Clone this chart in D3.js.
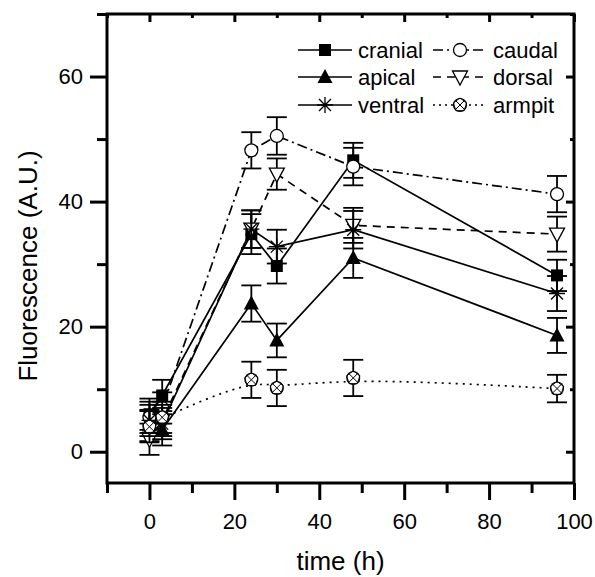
<!DOCTYPE html>
<html>
<head>
<meta charset="utf-8">
<script src="https://cdn.jsdelivr.net/npm/d3@7"></script>
<style>
  body { margin: 0; background: #fff; }
  svg { display: block; font-family: 'Liberation Sans', Arial, sans-serif; }
</style>
</head>
<body>
<svg id="canvas"></svg>
<script>
// time points (h)
let times = [0, 3, 24, 30, 48, 96]

// series values and errors
let cranial = [6, 9, 34.8, 29.7, 46.6, 28.2]
let cranialErr = [2.5, 2.5, 3.2, 2.8, 2.8, 2.5]
let caudal = [5.5, 7, 48.2, 50.5, 45.6, 41.2]
let caudalErr = [2.5, 2.5, 2.9, 3.0, 3.0, 2.9]
let apical = [4.2, 3.5, 23.7, 17.8, 31, 18.6]
let apicalErr = [2.5, 2.5, 2.9, 2.7, 3.2, 2.8]
let dorsal = [2, 5, 35.6, 44.4, 36.2, 34.8]
let dorsalErr = [2.5, 2.5, 3, 2.5, 2.8, 2.8]
let ventral = [5, 4.5, 35.6, 32.8, 35.5, 25.3]
let ventralErr = [2.5, 2.5, 3, 2.7, 3, 2.8]
let armpit = [4, 5.5, 11.5, 10.2, 11.8, 10.1]
let armpitErr = [2.5, 2.5, 2.9, 2.9, 2.9, 2.2]

let seriesNames = ['cranial', 'caudal', 'apical', 'dorsal', 'ventral', 'armpit']

let xMajor = [0, 20, 40, 60, 80, 100]
let xMinor = [-10, 10, 30, 50, 70, 90]
let yMajor = [0, 20, 40, 60]
let yMinor = [10, 30, 50, 70]

let width = 595
let height = 577
let plotLeft = 107
let plotRight = 574
let plotTop = 14
let plotBottom = 483

let svg = d3.select('#canvas')
svg.attr('width', width).attr('height', height)

let xScale = d3.scaleLinear().domain([-10, 100]).range([plotLeft, plotRight])
let yScale = d3.scaleLinear().domain([-5, 70]).range([plotBottom, plotTop])

let styles = {
    cranial: { values: cranial, err: cranialErr, marker: 'square', dash: null, curve: d3.curveLinear },
    caudal: { values: caudal, err: caudalErr, marker: 'circle', dash: '10,4,2,4', curve: d3.curveLinear },
    apical: { values: apical, err: apicalErr, marker: 'triangle', dash: null, curve: d3.curveLinear },
    dorsal: { values: dorsal, err: dorsalErr, marker: 'triangleDown', dash: '8,6', curve: d3.curveLinear },
    ventral: { values: ventral, err: ventralErr, marker: 'star', dash: null, curve: d3.curveLinear },
    armpit: { values: armpit, err: armpitErr, marker: 'crossed', dash: '2,5', curve: d3.curveBasis }
}

let drawMarker = (g, type) => {
    if (type === 'square') {
        g.append('rect').attr('x', -6).attr('y', -6).attr('width', 12).attr('height', 12).attr('fill', '#000')
    } else if (type === 'circle') {
        g.append('circle').attr('r', 6.5).attr('fill', '#fff').attr('stroke', '#000').attr('stroke-width', 1.3)
    } else if (type === 'triangle') {
        g.append('path').attr('d', 'M0,-8L7.5,6L-7.5,6Z').attr('fill', '#000')
    } else if (type === 'triangleDown') {
        g.append('path').attr('d', 'M0,8L7.5,-6L-7.5,-6Z').attr('fill', '#fff').attr('stroke', '#000').attr('stroke-width', 1.3)
    } else if (type === 'star') {
        g.append('path').attr('d', 'M0,-8V8M-8,0H8M-6,-6L6,6M-6,6L6,-6')
            .attr('fill', 'none').attr('stroke', '#000').attr('stroke-width', 1.3)
    } else if (type === 'crossed') {
        g.append('circle').attr('r', 6.5).attr('fill', '#fff').attr('stroke', '#000').attr('stroke-width', 1.1)
        g.append('path').attr('d', 'M0,-7L6.7,-2.2L4.1,5.7L-4.1,5.7L-6.7,-2.2Z')
            .attr('fill', 'none').attr('stroke', '#000').attr('stroke-width', 1)
        g.append('path').attr('d', 'M-5,-5L5,5M-5,5L5,-5')
            .attr('fill', 'none').attr('stroke', '#000').attr('stroke-width', 1)
    }
}

let drawAxes = () => {
    let axes = [
        [d3.axisBottom(xScale).tickValues(xMajor).tickSize(17).tickPadding(13), 'translate(0,' + plotBottom + ')'],
        [d3.axisBottom(xScale).tickValues(xMinor).tickSize(10).tickFormat(''), 'translate(0,' + plotBottom + ')'],
        [d3.axisLeft(yScale).tickValues(yMajor).tickSize(17).tickPadding(7), 'translate(' + plotLeft + ',0)'],
        [d3.axisLeft(yScale).tickValues(yMinor).tickSize(10).tickFormat(''), 'translate(' + plotLeft + ',0)'],
        [d3.axisBottom(xScale).tickValues(xMajor).tickSize(8).tickFormat(''), 'translate(0,' + plotTop + ')'],
        [d3.axisBottom(xScale).tickValues(xMinor).tickSize(4).tickFormat(''), 'translate(0,' + plotTop + ')'],
        [d3.axisLeft(yScale).tickValues(yMajor).tickSize(8).tickFormat(''), 'translate(' + plotRight + ',0)'],
        [d3.axisLeft(yScale).tickValues(yMinor).tickSize(4).tickFormat(''), 'translate(' + plotRight + ',0)']
    ]
    axes.forEach(([axis, tr]) => {
        let g = svg.append('g').attr('transform', tr).call(axis)
        g.select('.domain').remove()
        g.selectAll('line').attr('stroke', '#000').attr('stroke-width', 3)
        g.selectAll('text').attr('font-size', 22).attr('fill', '#000')
            .attr('font-family', "'Liberation Sans', Arial, sans-serif")
    })

    // ticks at the top and right pointing inward: flip them
    svg.selectAll('g').filter(function () {
        let tr = d3.select(this).attr('transform') || ''
        return tr === 'translate(' + plotRight + ',0)'
    }).selectAll('.tick line').attr('x2', function () { return -Math.abs(+d3.select(this).attr('x2')) })

    svg.append('rect')
        .attr('x', plotLeft).attr('y', plotTop)
        .attr('width', plotRight - plotLeft).attr('height', plotBottom - plotTop)
        .attr('fill', 'none').attr('stroke', '#000').attr('stroke-width', 3)

    svg.append('text')
        .attr('x', (plotLeft + plotRight) / 2).attr('y', 570)
        .attr('text-anchor', 'middle').attr('font-size', 26)
        .text('time (h)')

    svg.append('text')
        .attr('transform', 'translate(37,266) rotate(-90)')
        .attr('text-anchor', 'middle').attr('font-size', 26)
        .text('Fluorescence (A.U.)')
}

let drawSeries = () => {
    seriesNames.forEach((name) => {
        let s = styles[name]
        let pts = times.map((t, i) => ({ t: t, v: s.values[i], e: s.err[i] }))
        let line = d3.line()
            .x((d) => xScale(d.t))
            .y((d) => yScale(d.v))
            .curve(s.curve)
        let g = svg.append('g').attr('class', 'series-' + name)
        g.append('path')
            .datum(pts)
            .attr('d', line)
            .attr('fill', 'none')
            .attr('stroke', '#000')
            .attr('stroke-width', 1.7)
            .attr('stroke-dasharray', s.dash)

        let eb = g.selectAll('.err').data(pts).enter().append('g').attr('class', 'err')
        eb.append('line')
            .attr('x1', (d) => xScale(d.t)).attr('x2', (d) => xScale(d.t))
            .attr('y1', (d) => yScale(d.v - d.e)).attr('y2', (d) => yScale(d.v + d.e))
        eb.append('line')
            .attr('x1', (d) => xScale(d.t) - 10).attr('x2', (d) => xScale(d.t) + 10)
            .attr('y1', (d) => yScale(d.v + d.e)).attr('y2', (d) => yScale(d.v + d.e))
        eb.append('line')
            .attr('x1', (d) => xScale(d.t) - 10).attr('x2', (d) => xScale(d.t) + 10)
            .attr('y1', (d) => yScale(d.v - d.e)).attr('y2', (d) => yScale(d.v - d.e))
        eb.selectAll('line').attr('stroke', '#000').attr('stroke-width', 1.8)

        g.selectAll('.mk').data(pts).enter().append('g')
            .attr('class', 'mk')
            .attr('transform', (d) => 'translate(' + xScale(d.t) + ',' + yScale(d.v) + ')')
            .each(function () { drawMarker(d3.select(this), s.marker) })
    })
}

let drawLegend = () => {
    let cols = [[298, 352, 358], [433, 487, 493]]
    let rows = [50, 77, 105]
    seriesNames.forEach((name, i) => {
        let s = styles[name]
        let c = cols[i % 2]
        let y = rows[Math.floor(i / 2)]
        let g = svg.append('g').attr('class', 'legend-item')
        g.append('line')
            .attr('x1', c[0]).attr('x2', c[1]).attr('y1', y).attr('y2', y)
            .attr('stroke', '#000').attr('stroke-width', 1.7)
            .attr('stroke-dasharray', s.dash === '2,5' ? '2,4' : s.dash)
        let m = g.append('g').attr('transform', 'translate(' + (c[0] + c[1]) / 2 + ',' + y + ')')
        drawMarker(m, s.marker)
        g.append('text')
            .attr('x', c[2]).attr('y', y + 8)
            .attr('font-size', 22)
            .text(name)
    })
}

drawAxes()
drawSeries()
drawLegend()
</script>
</body>
</html>
